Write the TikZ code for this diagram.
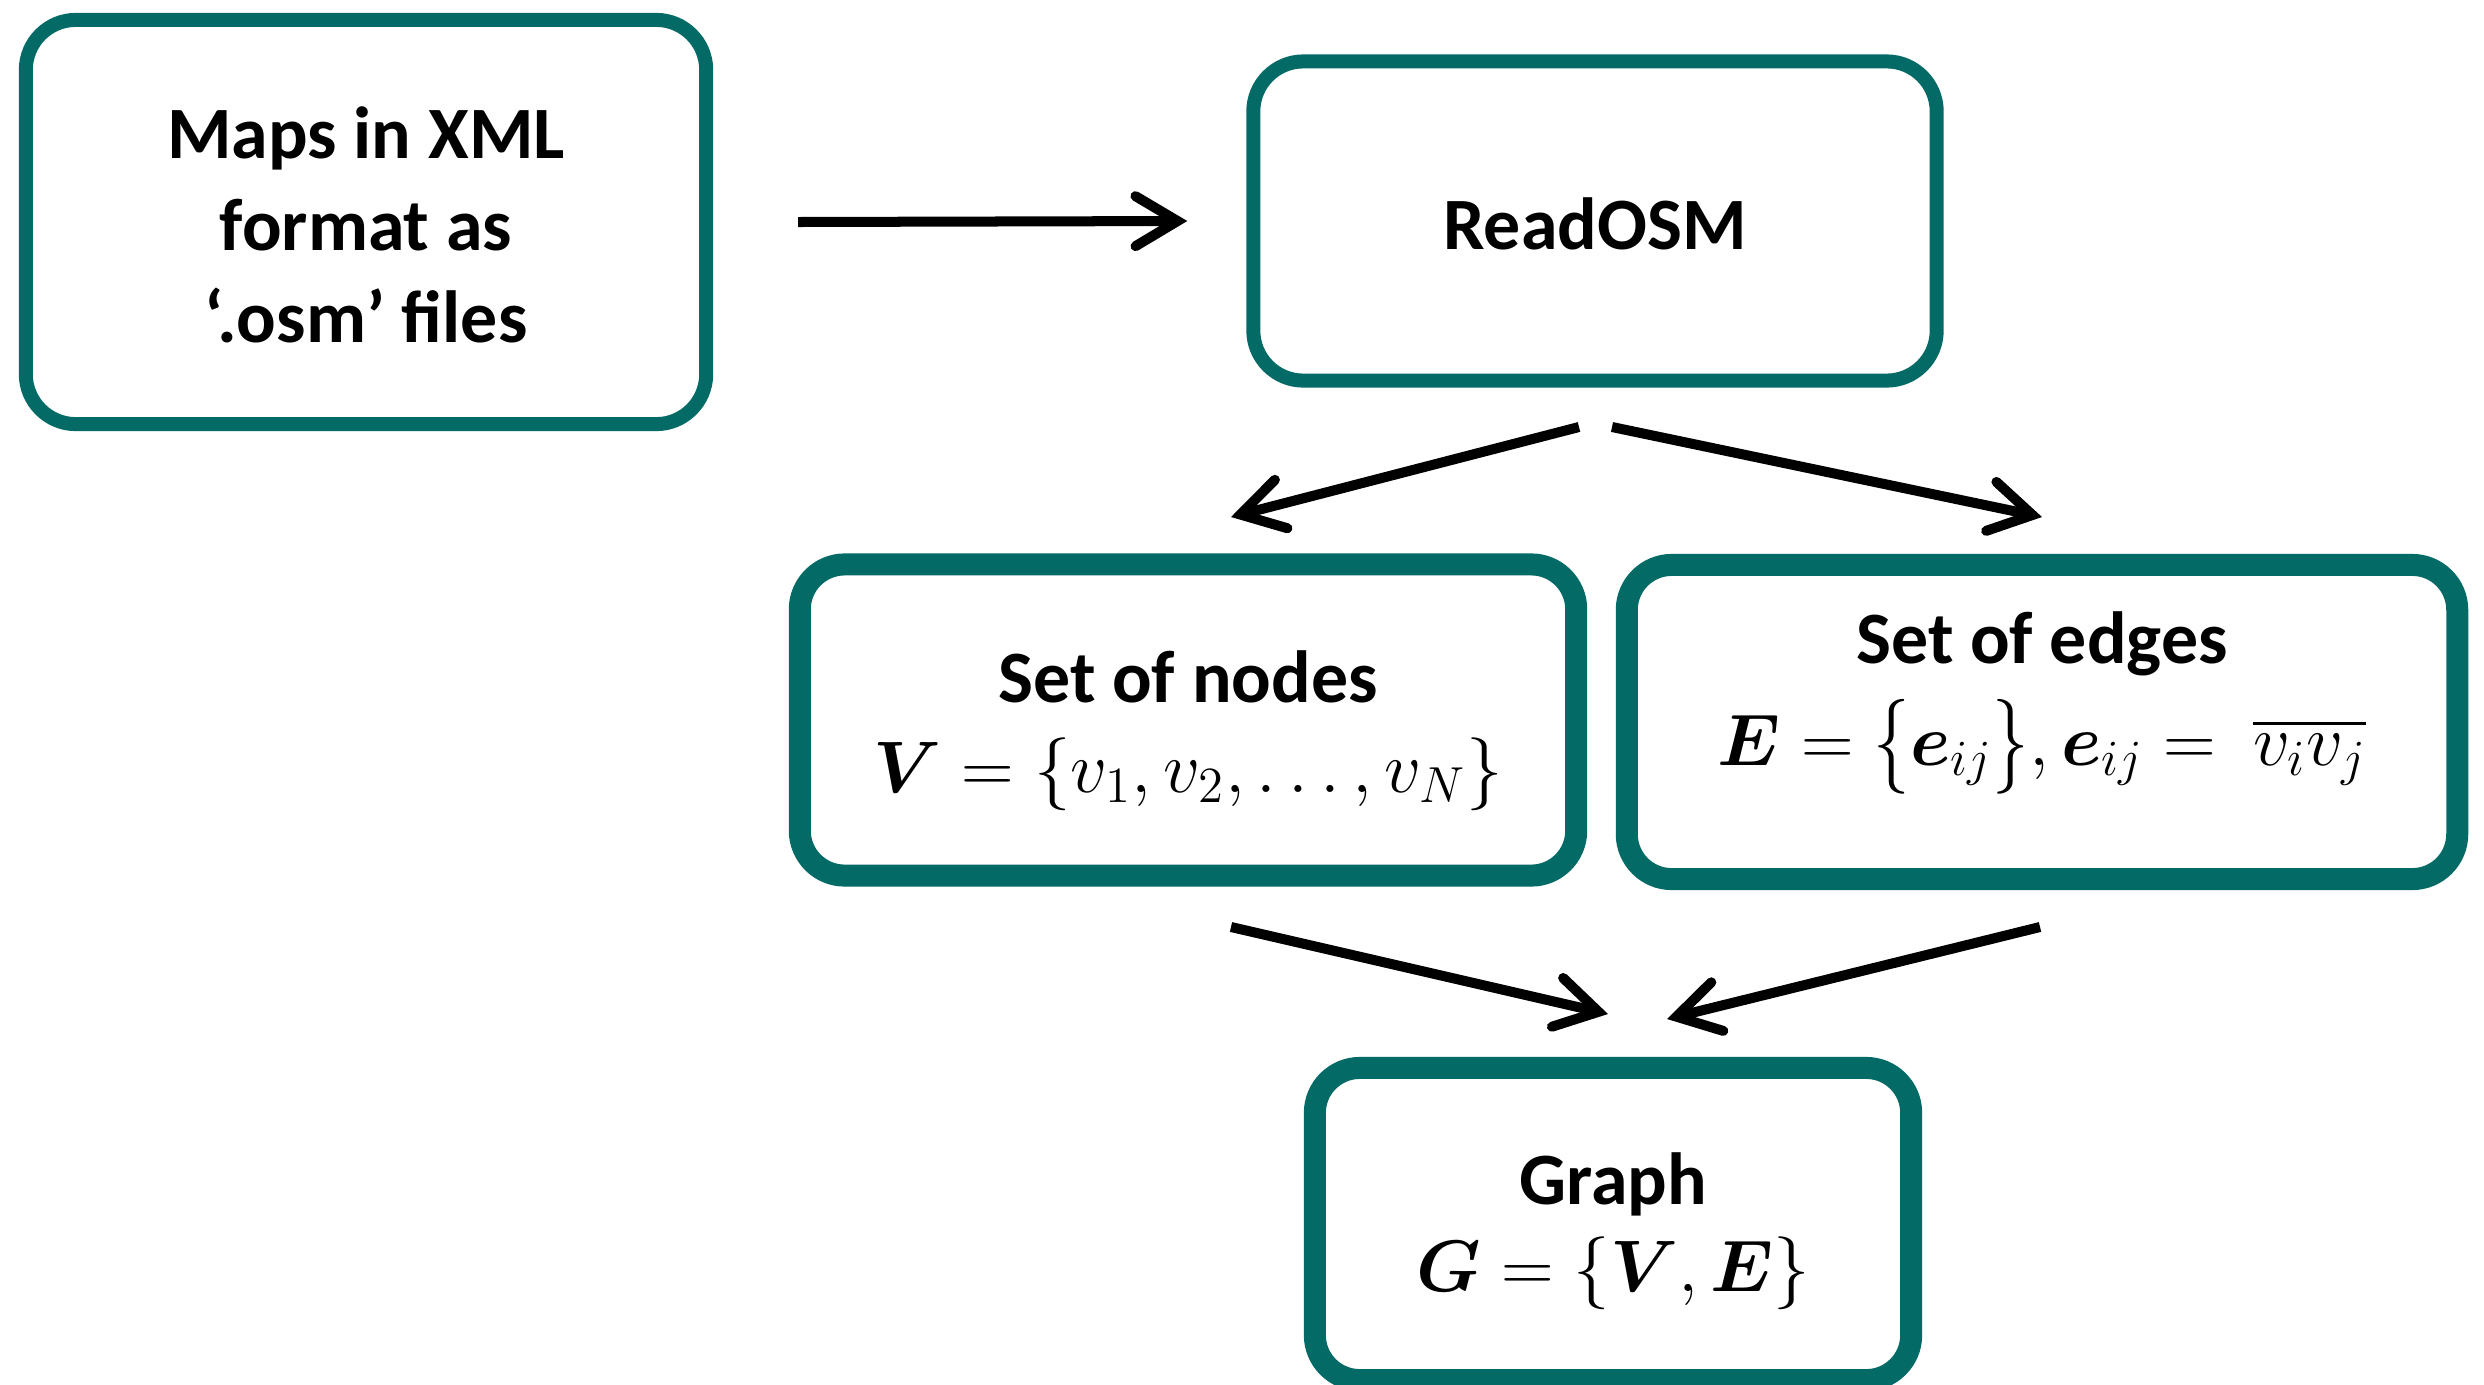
\documentclass[tikz,border=0pt]{standalone}
\usepackage{amsmath,bm,graphicx}
\usepackage{fontspec}
\setmainfont{Carlito}
\usetikzlibrary{arrows.meta,calc}
\definecolor{tealbox}{RGB}{4,106,102}
\newcommand{\tallopen}{\mathopen{\raisebox{-0.07em}{\scalebox{1}[1.3]{$\{$}}}}
\newcommand{\tallclose}{\mathclose{\raisebox{-0.07em}{\scalebox{1}[1.3]{$\}$}}}}
\tikzset{
  boxa/.style={draw=tealbox, line width=0.14cm, rounded corners=0.5cm, fill=white, inner sep=0},
  boxb/.style={draw=tealbox, line width=0.22cm, rounded corners=0.45cm, fill=white, inner sep=0},
  lbl/.style={font=\fontsize{21}{26.2}\selectfont\bfseries, inner sep=0, anchor=base},
  arr/.style={line width=0.10cm, -{Straight Barb[length=0.42cm,width=0.50cm,line width=0.10cm,line cap=round,line join=miter]}},
}
\begin{document}
\begin{tikzpicture}[x=0.01cm,y=-0.01cm]
\useasboundingbox (0,0) rectangle (2484,1384);
% boxes
\node[boxa, minimum width=6.80cm, minimum height=4.04cm] (maps) at (366,222) {};
\node[boxa, minimum width=6.83cm, minimum height=3.19cm] (read) at (1595,221) {};
\node[boxb, minimum width=7.76cm, minimum height=3.11cm] (nodes) at (1188,720) {};
\node[boxb, minimum width=8.30cm, minimum height=3.14cm] (edges) at (2042,722) {};
\node[boxb, minimum width=5.96cm, minimum height=3.12cm] (graph) at (1613,1224) {};
% texts
\node[lbl] (maps1) at (366,158) {Maps in XML};
\node[lbl] (maps2) at (366,250) {format as};
\node[lbl] (maps3) at (366,342) {‘.osm’ files};
\node[lbl] (readt) at (1595,249) {ReadOSM};
\node[lbl] (nodes1) at (1188,702) {Set of nodes};
\node[lbl] (nodes2) at (1188,792) {$\bm{V} = \{v_1, v_2, \ldots, v_N\}$};
\node[lbl] (edges1) at (2042,663) {Set of edges};
\node[lbl] (edges2) at (2042,765) {$\bm{E} = \tallopen\bm{e}_{ij}\tallclose, \bm{e}_{ij} = \ \overline{v_i v_j}$};
\node[lbl] (graph1) at (1613,1204) {Graph};
\node[lbl] (graph2) at (1613,1291) {$\bm{G} = \{\bm{V}, \bm{E}\}$};
% connector end points
\coordinate (c1) at (1579,427);
\coordinate (c2) at (1231,517);
\coordinate (c3) at (1612,427);
\coordinate (c4) at (2042,517);
\coordinate (c5) at (1231,927);
\coordinate (c6) at (1608,1014);
\coordinate (c7) at (2040,927);
\coordinate (c8) at (1667,1019);
% arrows
\draw[arr] ($(maps.east)+(85,0)$) -- ($(read.west)+(-59,0)$);
\draw[arr] (c1) -- (c2);
\draw[arr] (c3) -- (c4);
\draw[arr] (c5) -- (c6);
\draw[arr] (c7) -- (c8);
\end{tikzpicture}
\end{document}
